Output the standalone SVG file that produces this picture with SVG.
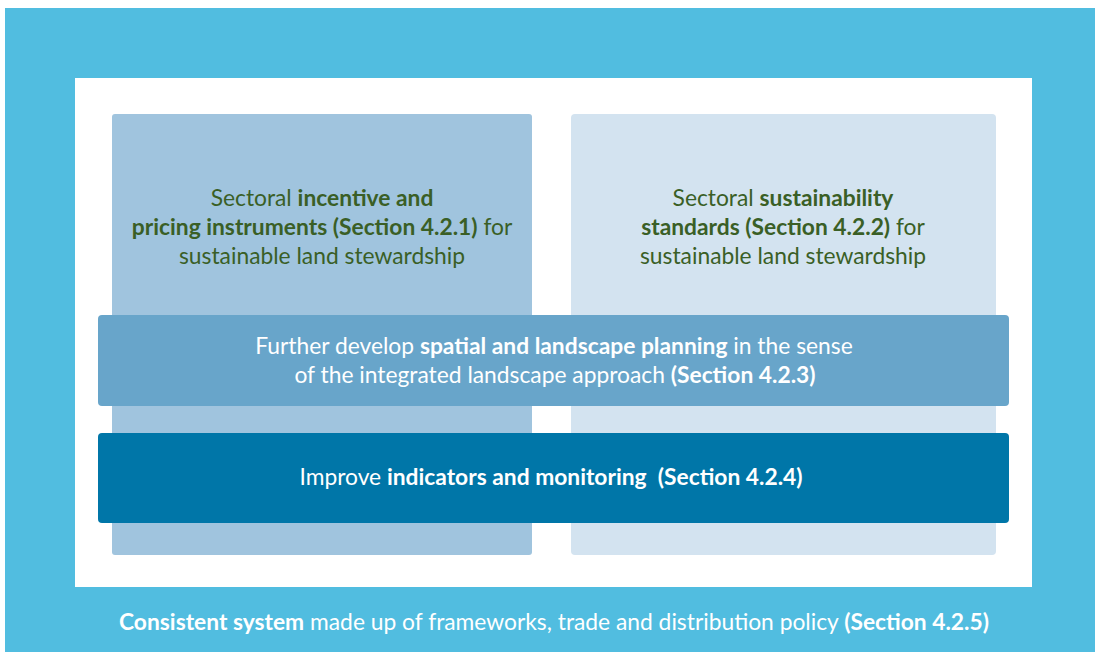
<svg xmlns="http://www.w3.org/2000/svg" width="1095" height="652" viewBox="0 0 1095 652">
<style>
text{font-family:Lato,"Open Sans","Liberation Sans",sans-serif;font-size:22.8px;text-anchor:middle;font-weight:400}
.b{font-weight:700}
.g{fill:#3a5f26}
.w{fill:#ffffff}
.pre{white-space:pre}
</style>
<rect x="0" y="0" width="1095" height="652" fill="#ffffff"/>
<g id="frame">
<rect x="5" y="8" width="1090" height="644" fill="#51bde0"/>
<rect x="75" y="78" width="957" height="509" fill="#ffffff"/>
</g>
<g id="incentives">
<rect x="112" y="114" width="420" height="441" rx="3" fill="#a0c4de"/>
<text class="g" x="322" y="206">Sectoral <tspan class="b">incentive and</tspan></text>
<text class="g" x="322" y="235"><tspan class="b">pricing instruments (Section 4.2.1)</tspan> for</text>
<text class="g" x="322" y="264">sustainable land stewardship</text>
</g>
<g id="standards">
<rect x="571" y="114" width="425" height="441" rx="4" fill="#d3e3f0"/>
<text class="g" x="783" y="206">Sectoral <tspan class="b">sustainability</tspan></text>
<text class="g" x="783" y="235"><tspan class="b">standards (Section 4.2.2)</tspan> for</text>
<text class="g" x="783" y="264">sustainable land stewardship</text>
</g>
<g id="planning">
<rect x="98" y="315" width="911" height="91" rx="4" fill="#68a5ca"/>
<text class="w" x="554" y="354">Further develop <tspan class="b">spatial and landscape planning</tspan> in the sense</text>
<text class="w" x="555" y="383">of the integrated landscape approach <tspan class="b">(Section 4.2.3)</tspan></text>
</g>
<g id="monitoring">
<rect x="98" y="433" width="911" height="90" rx="4" fill="#0076a8"/>
<text class="w pre" x="551" y="485">Improve <tspan class="b">indicators and monitoring  (Section 4.2.4)</tspan></text>
</g>
<g id="system">
<text class="w" x="554" y="630"><tspan class="b">Consistent system</tspan> made up of frameworks, trade and distribution policy <tspan class="b">(Section 4.2.5)</tspan></text>
</g>
<g id="connectors"/>
</svg>
